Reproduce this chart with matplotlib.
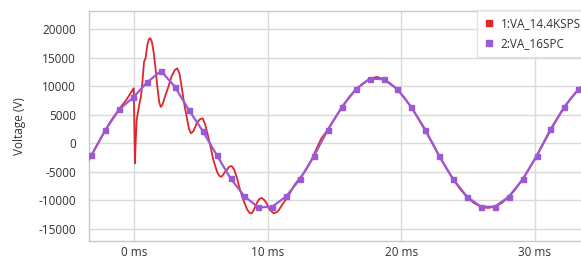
import matplotlib
matplotlib.use("Agg")
import matplotlib.pyplot as plt
from matplotlib.lines import Line2D

plt.rcParams['font.family'] = ['Open Sans', 'DejaVu Sans']

# ---- data (time in ms, voltage in V) ----
red_t = [-3.6, -3.21, -2.69, -2.17, -1.65, -1.13, -0.57, -0.3, -0.12, -0.04, 0.05,
         0.1, 0.18, 0.35, 0.5, 0.62, 0.73, 0.85, 0.98, 1.1, 1.2, 1.32, 1.45, 1.6,
         1.75, 1.87, 1.98, 2.1, 2.3, 2.55, 2.8, 3.05, 3.22, 3.38, 3.55, 3.75,
         3.92, 4.1, 4.25, 4.45, 4.67, 4.9, 5.12, 5.3, 5.54, 5.75, 5.92, 6.2, 6.4,
         6.55, 6.75, 6.92, 7.1, 7.3, 7.48, 7.67, 7.9, 8.17, 8.45, 8.65, 8.79,
         8.95, 9.17, 9.35, 9.54, 9.72, 9.92, 10.15, 10.45, 10.65, 10.8, 11.16,
         11.6, 12.0, 12.4, 12.8, 13.2, 13.6, 14.0, 14.5, 15.0, 15.5, 16.06,
         16.58, 17.11, 17.63, 18.15, 18.67, 19.19, 19.71, 20.23, 20.75, 21.27,
         21.79, 22.32, 22.84, 23.36, 23.88, 24.40, 24.92, 25.44, 25.96, 26.48,
         27.00, 27.52, 28.04, 28.56, 29.08, 29.61, 30.13, 30.65, 31.17, 31.69,
         32.21, 32.73, 33.25, 33.77, 34.3]
red_v = [-3500, -2100, 100, 2300, 4300, 6000, 7700, 8700, 9400, 9650, -3500,
         0, 4100, 6500, 8200, 11000, 14300, 15000, 17300, 18300, 18450, 17800, 16000, 13000,
         9500, 7200, 6400, 6700, 8200, 9900, 11800, 12900, 13150, 12300, 9900, 6800,
         4700, 2500, 1750, 2200, 3500, 4200, 4400, 3400, 1150, -1000, -2900, -5000, -5800,
         -5850, -5200, -4700, -4100, -4000, -4600, -5900, -8000, -9950, -11600, -12250, -12300,
         -11700, -10540, -9800, -9600, -9900, -10540, -11700, -12300, -12100, -11800, -10500,
         -9000, -7300, -6100, -4900, -3300, -1200, 800, 2400, 4300, 6100, 8026,
         9437, 10486, 11300, 11650, 11300, 10486, 9437, 8026, 6306, 4343,
         2214, 0, -2214, -4343, -6306, -8026, -9437, -10486, -11132, -11350,
         -11132, -10486, -9437, -8026, -6306, -4343, -2214, 0, 2214, 4343,
         6306, 8026, 9437, 10486, 11132]

purple_t = [-4.25, -3.21, -2.17, -1.13, -0.08, 0.96, 2.00, 3.04, 4.09, 5.13,
            6.17, 7.21, 8.25, 9.30, 10.34, 11.38, 12.42, 13.46, 14.50, 15.55,
            16.59, 17.63, 18.67, 19.71, 20.75, 21.80, 22.84, 23.88, 24.92, 25.96,
            27.00, 28.05, 29.09, 30.13, 31.17, 32.21, 33.26, 34.30]
purple_v = [-6000, -2100, 2300, 5950, 8050, 10700, 12700, 9950, 5850, 2150,
            -2050, -6150, -9300, -11250, -11130, -9300, -6250, -2230, 2400, 6400,
            9480, 11350, 11250, 9500, 6350, 2400, -2230, -6300, -9370, -11130,
            -11130, -9370, -6320, -2230, 2450, 6430, 9450, 11300]

series_names = ['1:VA_14.4KSPS', '2:VA_16SPC']
x_ticks = [0, 10, 20, 30]
x_tick_labels = ['0 ms', '10 ms', '20 ms', '30 ms']
y_ticks = [-15000, -10000, -5000, 0, 5000, 10000, 15000, 20000]

RED = '#e0262b'
PURPLE = '#9b59d3'

W, H = 581, 259
fig = plt.figure(figsize=(W / 100, H / 100), dpi=100)
ax_left, ax_right, ax_top, ax_bottom = 89, 600, 11, 241
ax = fig.add_axes([ax_left / W, 1 - ax_bottom / H, (ax_right - ax_left) / W,
                   (ax_bottom - ax_top) / H])

ax.plot(red_t, red_v, color=RED, lw=1.3, zorder=3)
ax.plot(purple_t, purple_v, color=PURPLE, lw=1.6, marker='s', ms=3.6,
        mec=PURPLE, mfc=PURPLE, zorder=4)

ax.set_xlim(-3.39, 34.88)
ax.set_ylim(-17150, 23230)
ax.set_xticks(x_ticks)
ax.set_xticklabels(x_tick_labels)
ax.set_yticks(y_ticks)
ax.set_yticklabels([str(v) for v in y_ticks])
ax.tick_params(axis='both', length=0, labelsize=8.5, colors='#333333')
ax.tick_params(axis='y', pad=9.5)
ax.tick_params(axis='x', pad=3.5)
ax.grid(True, color='#dadada', lw=1.0)
ax.set_axisbelow(True)
for s in ax.spines.values():
    s.set_color('#c8c8c8')
    s.set_linewidth(1.0)

fig.text(20 / W, 1 - 126 / H, 'Voltage (V)', rotation=90, va='center',
         ha='center', fontsize=8.5, color='#333333')

handles = [Line2D([], [], ls='none', marker='s', ms=5, color=RED),
           Line2D([], [], ls='none', marker='s', ms=5, color=PURPLE)]
leg = fig.legend(handles, series_names, loc='upper left',
                 bbox_to_anchor=(477 / W, 1 - 10 / H),
                 bbox_transform=fig.transFigure, fontsize=8.5, frameon=True,
                 fancybox=False, borderaxespad=0, handlelength=0.8,
                 handletextpad=0.6, borderpad=0.6, labelspacing=0.6)
leg.get_frame().set_edgecolor('#dddddd')
leg.get_frame().set_linewidth(1.0)
for t in leg.get_texts():
    t.set_color('#333333')

fig.savefig('out.png', dpi=100)
